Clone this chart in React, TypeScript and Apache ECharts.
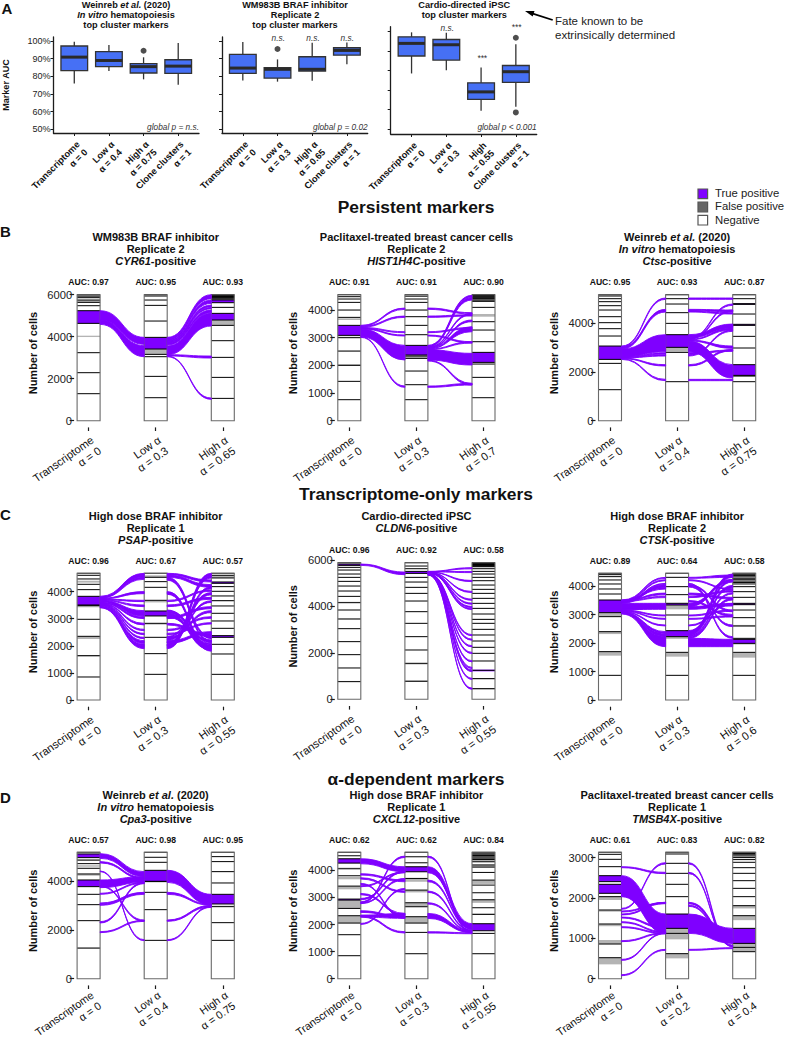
import React, { useEffect, useRef } from "react";
import * as echarts from "echarts";

const FONT = "Liberation Sans";
const PURPLE = "#7f00ff";
const GREY = "#b4b4b4";
const BLUE = "#4670f5";
const INK = "#1c1c1c";

// ---------- Panel A: marker AUC boxplots: [category, min, q1, median, q3, max]
const A1_BOX = [[1, 76, 83.2, 90.9, 97.2, 99.6], [2, 83, 85.5, 89, 94, 97.7], [3, 78.3, 81.9, 85.5, 87.2, 90.8], [4, 75.3, 81.7, 85.8, 89.4, 98.9]];
const A2_BOX = [[1, 77.7, 81.7, 84.7, 92.5, 99.4], [2, 77, 79, 84, 84.9, 89.6], [3, 77.5, 83, 84, 91.1, 99], [4, 86.8, 92, 94.7, 96.2, 99.2]];
const A3_BOX = [[1, 78.5, 87.5, 94, 97.4, 99.7], [2, 80.2, 85.4, 93.3, 96, 99.5], [3, 59.3, 65.1, 69, 73.7, 81.6], [4, 61.3, 73.9, 79.4, 82.6, 93.6]];
const A1_OUT = [[3, 94.5]];
const A2_OUT = [[2, 95.5]];
const A3_OUT = [[4, 96.9], [4, 58.4]];
const A_PERCENT_TICKS = [50, 60, 70, 80, 90, 100];
const A1_NAMES = ["Transcriptome\nα = 0", "Low α\nα = 0.4", "High α\nα = 0.75", "Clone clusters\nα = 1"];
const A2_NAMES = ["Transcriptome\nα = 0", "Low α\nα = 0.3", "High α\nα = 0.65", "Clone clusters\nα = 1"];
const A3_NAMES = ["Transcriptome\nα = 0", "Low α\nα = 0.3", "High\nα = 0.55", "Clone clusters\nα = 1"];

// ---------- Alluvial panels. LINES: stratum boundaries per column, GREY / PURPLE: [lo, hi] bands per column
// FLOWS: per gap, [lo, hi] at the left column, [lo, hi] at the right column
const B1_LINES = [[1286, 2286, 3238, 4635, 5238, 5476, 5635, 5746, 5857, 5937, 6000], [1095, 2111, 3048, 3159, 3413, 3968, 4746, 5492, 5746, 5937, 6000], [1063, 2063, 3016, 3810, 4540, 4794, 5111, 5397, 5619, 5750, 5800, 5850, 5880, 5910, 5940, 5970, 6000]];
const B1_GREY = [[[3984, 4048], [5640, 5746], [5857, 5937]], [[3159, 3413]], [[4540, 4794], [5750, 6000]]];
const B1_PURPLE = [[[4635, 5238]], [[3413, 3968]], [[4794, 5111], [5620, 5750]]];
const B1_FLOWS = [
  [[4794, 5238, 3635, 3968], [4587, 4794, 3048, 3571]],
  [[3905, 3968, 5810, 6000], [3810, 3905, 5587, 5746], [3746, 3810, 5429, 5508], [3698, 3746, 5333, 5397], [3603, 3698, 5143, 5270], [3143, 3556, 4508, 5111], [3079, 3143, 2984, 3079], [3048, 3079, 1016, 1079]],
];

const B2_LINES = [[759, 1422, 2000, 2518, 3000, 3084, 3446, 3735, 4000, 4277, 4398, 4482, 4554], [759, 1301, 1795, 2253, 2337, 2373, 2723, 3108, 3446, 3759, 4000, 4277, 4398, 4500, 4554], [831, 1566, 2048, 2108, 2470, 2855, 3277, 3578, 4096, 4313, 4360, 4410, 4440, 4470, 4500, 4530, 4554]];
const B2_GREY = [[[2000, 2048], [2500, 2518], [3000, 3036], [3640, 3700], [3990, 4000]], [[2253, 2337], [3990, 4000]], [[3759, 3856], [4330, 4554]]];
const B2_PURPLE = [[[3084, 3446]], [[2373, 2723]], [[2108, 2470]]];
const B2_FLOWS = [
  [[3410, 3446, 4024, 4072], [3373, 3410, 3735, 3783], [3337, 3373, 3181, 3217], [3313, 3337, 3060, 3096], [3036, 3313, 2193, 2723], [3012, 3036, 1205, 1253]],
  [[4024, 4072, 3856, 3904], [3735, 3783, 3783, 3832], [3181, 3217, 3325, 3373], [3060, 3096, 2807, 2855], [2687, 2723, 4458, 4530], [2663, 2687, 4362, 4446], [2639, 2663, 3832, 3880], [2615, 2639, 3578, 3639], [2590, 2615, 3217, 3398], [2566, 2590, 2807, 2855], [2193, 2566, 2012, 2434], [2157, 2193, 1289, 1349], [1205, 1253, 1289, 1349]],
];

const B3_LINES = [[1274, 2356, 2520, 3068, 3480, 3781, 4028, 4274, 4548, 4726, 4891, 5014, 5124, 5178], [1603, 2808, 3014, 3535, 4000, 4439, 4795, 5014, 5178], [1603, 1836, 1863, 2302, 2987, 3466, 3918, 3960, 4384, 4781, 4810, 5014, 5178]];
const B3_GREY = [[], [[2836, 3014]], [[1820, 1863]]];
const B3_PURPLE = [[[2520, 3068]], [[3014, 3535]], [[1863, 2302], [3918, 3960], [4781, 4810]]];
const B3_FLOWS = [
  [[3027, 3068, 4987, 5042], [2987, 3027, 4521, 4576], [2946, 2987, 4466, 4521], [2630, 2946, 2836, 3535], [2603, 2630, 2740, 2795], [2576, 2603, 2658, 2713], [2548, 2576, 2247, 2302], [2521, 2548, 1644, 1699]],
  [[4987, 5042, 4987, 5042], [4521, 4576, 4480, 4548], [4466, 4521, 4384, 4439], [3452, 3535, 3836, 3973], [3398, 3452, 3795, 3891], [3370, 3398, 4740, 4795], [3343, 3370, 4480, 4548], [3315, 3343, 3726, 3795], [3274, 3315, 2973, 3069], [2836, 3274, 1754, 2302], [2740, 2795, 2850, 2904], [2658, 2713, 3672, 3726], [2247, 2302, 2877, 2932], [1644, 1699, 1644, 1699]],
];

const C1_LINES = [[849, 1636, 2349, 2977, 3481, 3505, 3825, 4071, 4268, 4465, 4600, 4674], [947, 1710, 2312, 2829, 3100, 3284, 3678, 4157, 4366, 4526, 4674], [947, 1697, 2054, 2312, 2374, 2644, 2915, 3198, 3469, 3665, 3838, 4010, 4182, 4305, 4354, 4502, 4600, 4674]];
const C1_GREY = [[[1600, 1636], [2250, 2349], [3420, 3481], [4330, 4400]], [[2780, 2829], [3600, 3678], [4526, 4600]], [[3640, 3665], [4500, 4600]]];
const C1_PURPLE = [[[3505, 3825]], [[3100, 3284]], [[2312, 2374], [4305, 4354]]];
const C1_FLOWS = [
  [[3776, 3825, 4526, 4674], [3752, 3776, 4453, 4526], [3727, 3752, 3924, 3998], [3702, 3727, 3629, 3678], [3678, 3702, 3444, 3505], [3604, 3678, 3100, 3296], [3579, 3604, 3001, 3075], [3555, 3579, 2768, 2829], [3530, 3555, 2558, 2608], [3505, 3530, 2411, 2460], [3481, 3505, 2263, 2312], [3444, 3481, 2091, 2189], [3420, 3444, 1993, 2066], [3400, 3420, 1894, 1993]],
  [[4600, 4674, 4354, 4428], [4526, 4600, 4157, 4256], [4453, 4526, 2263, 2337], [3924, 3998, 1894, 1968], [3629, 3678, 4010, 4059], [3444, 3505, 3715, 3788], [3198, 3296, 2116, 2214], [3100, 3198, 1845, 1968], [3001, 3075, 3370, 3444], [2768, 2829, 2337, 2435], [2558, 2608, 3014, 3075], [2411, 2460, 2804, 2854], [2263, 2312, 3223, 3296], [2091, 2189, 2448, 2522], [1993, 2066, 4576, 4674], [1894, 1993, 4502, 4576], [3900, 3924, 1800, 1880], [3296, 3320, 1950, 2020], [3050, 3100, 2020, 2090], [4420, 4453, 2140, 2200], [2000, 2050, 4100, 4180], [2100, 2150, 3880, 3950], [2200, 2260, 3600, 3660], [2300, 2350, 3900, 3960]],
];

const C2_LINES = [[760, 1349, 1923, 2483, 3042, 3458, 3846, 4162, 4434, 4664, 4879, 5080, 5252, 5396, 5568, 5683, 5769, 5826, 5884], [775, 1550, 2124, 2698, 3272, 3774, 4233, 4563, 4822, 5051, 5252, 5424, 5510, 5625, 5740, 5884], [459, 890, 1248, 1650, 1980, 2239, 2511, 2770, 3013, 3272, 3444, 3674, 3917, 4133, 4348, 4563, 4736, 4922, 5108, 5252, 5396, 5510, 5625, 5711, 5740, 5770, 5790, 5810, 5830, 5850, 5870, 5884]];
const C2_GREY = [[[760, 790], [3458, 3480], [4162, 4200]], [[775, 820], [1500, 1550]], [[420, 459], [860, 910], [3420, 3460], [5711, 5884]]];
const C2_PURPLE = [[[5769, 5826]], [[5424, 5510]], [[1205, 1277]]];
const C2_FLOWS = [
  [[5769, 5826, 5367, 5480]],
  [[5500, 5510, 5620, 5670], [5490, 5500, 5457, 5507], [5480, 5490, 5069, 5119], [5470, 5480, 4595, 4645], [5460, 5470, 4265, 4315], [5450, 5460, 4093, 4143], [5440, 5450, 3950, 4000], [5430, 5440, 3864, 3914], [5420, 5430, 2737, 2787], [5410, 5420, 2543, 2593], [5400, 5410, 2257, 2307], [5390, 5400, 1970, 2020], [5380, 5390, 1611, 1661], [5372, 5380, 1324, 1374], [5366, 5372, 1192, 1262], [5360, 5366, 857, 907], [5354, 5360, 434, 484]],
];

const C3_LINES = [[867, 1700, 2403, 2930, 3071, 3516, 3727, 3903, 4079, 4220, 4337, 4407, 4455], [867, 1676, 2227, 2438, 2989, 3340, 3400, 3704, 3985, 4313, 4455], [867, 1676, 1992, 2133, 2168, 2602, 2895, 3164, 3352, 3399, 3610, 3809, 3985, 4080, 4130, 4180, 4230, 4280, 4330, 4380, 4420, 4455]];
const C3_GREY = [[[1559, 1700], [2318, 2403], [2930, 3071]], [[1524, 1676], [2150, 2227], [3188, 3340]], [[1489, 1676], [1950, 1992], [2590, 2640]]];
const C3_PURPLE = [[[3071, 3516]], [[2227, 2438], [3340, 3400]], [[1992, 2133], [3352, 3399]]];
const C3_FLOWS = [
  [[3481, 3516, 4278, 4313], [3446, 3481, 4196, 4231], [3422, 3446, 4067, 4102], [3399, 3422, 3973, 4008], [3188, 3399, 3188, 3399], [3164, 3188, 3223, 3282], [3141, 3164, 2953, 2989], [3118, 3141, 2836, 2871], [3094, 3118, 2602, 2637], [3071, 3094, 2344, 2403], [3047, 3071, 2227, 2344], [3024, 3047, 1875, 2227], [3500, 3516, 3900, 3960], [3480, 3500, 3700, 3760], [3460, 3480, 3600, 3650], [3440, 3460, 4000, 4050]],
  [[4278, 4313, 4313, 4395], [4196, 4231, 3879, 3914], [4067, 4102, 2168, 2227], [3973, 4008, 2578, 2637], [3282, 3399, 4161, 4243], [3188, 3282, 3305, 3399], [2953, 2989, 3118, 3164], [2836, 2871, 2918, 2965], [2602, 2637, 3352, 3399], [2285, 2403, 4313, 4430], [2227, 2285, 3727, 3774], [2168, 2227, 3516, 3575], [1875, 2168, 1875, 2133], [4000, 4050, 3100, 3160], [3700, 3760, 3550, 3610], [3600, 3650, 3800, 3860], [3450, 3500, 2950, 3010], [2400, 2440, 4150, 4220], [2300, 2380, 3950, 4030]],
];

const D1_LINES = [[1260, 2384, 3041, 3466, 3781, 4055, 4302, 4535, 4726, 4870, 4973, 5124, 5192], [1575, 2836, 3548, 3987, 4000, 4452, 4781, 4987, 5192], [1575, 2302, 2959, 3069, 3466, 3932, 4398, 4809, 5014, 5192]];
const D1_GREY = [[[1230, 1260], [4230, 4302], [4600, 4660], [4870, 4900]], [[3530, 3548]], [[2959, 3000], [4380, 4398]]];
const D1_PURPLE = [[[3781, 4055], [4973, 5124]], [[4000, 4452]], [[3069, 3466]]];
const D1_FLOWS = [
  [[4945, 5137, 4192, 4398], [4754, 4809, 4096, 4151], [3740, 4055, 3959, 4192], [4398, 4425, 1562, 1603], [3466, 3507, 3918, 3959], [3069, 3110, 3507, 3548], [3014, 3055, 3466, 3507], [2288, 2343, 3905, 3959], [1891, 1932, 2356, 2398], [3781, 3822, 2356, 2411]],
  [[3959, 4452, 3028, 3466], [3466, 3548, 3014, 3055], [2356, 2411, 2945, 3014], [1562, 1603, 2932, 2973]],
];

const D2_LINES = [[849, 1624, 2054, 2325, 2595, 2903, 2940, 3419, 3801, 4059, 4268, 4428, 4539, 4667], [922, 1710, 2054, 2288, 2657, 2804, 3272, 3702, 3948, 4133, 4280, 4502, 4667], [922, 1673, 1771, 2030, 2374, 2620, 2915, 3173, 3456, 3641, 3924, 4120, 4200, 4317, 4400, 4450, 4500, 4550, 4600, 4640, 4667]];
const D2_GREY = [[[2054, 2325], [2595, 2903], [3300, 3419], [3670, 3760], [4059, 4100]], [[2054, 2288], [2657, 2804], [3186, 3272], [3579, 3702]], [[2374, 2410], [2800, 2915], [3500, 3641], [4120, 4200], [4317, 4400], [4450, 4500], [4550, 4600]]];
const D2_PURPLE = [[[2903, 2940], [4268, 4428]], [[3948, 4133]], [[1771, 2030]]];
const D2_FLOWS = [
  [[4244, 4428, 3948, 4133], [3825, 3875, 3579, 3641], [3678, 3727, 3186, 3235], [3481, 3518, 2239, 2288], [3395, 3432, 3911, 3948], [3100, 3149, 2349, 2411], [2768, 2804, 3653, 3702], [2915, 2964, 3924, 3973], [2448, 2509, 2251, 2288], [2276, 2349, 2226, 2411], [2005, 2042, 3284, 3333], [2276, 2325, 1685, 1734], [2792, 2841, 4477, 4526]],
  [[4477, 4526, 1697, 1734], [3948, 4133, 1857, 2030], [3579, 3641, 1833, 1882], [3911, 3948, 1833, 1857], [3186, 3235, 1771, 1808], [2755, 2804, 1734, 1771], [2226, 2411, 1697, 1771], [1685, 1734, 1660, 1697]],
];

const D3_LINES = [[520, 859, 1355, 1702, 2032, 2115, 2338, 2404, 2552, 2775, 2957, 3081, 3131], [620, 1123, 1247, 1602, 2032, 2338, 2610, 2858, 3089, 3131], [669, 776, 875, 1247, 1561, 1809, 2032, 2238, 2428, 2610, 2750, 2883, 2950, 3000, 3040, 3070, 3100, 3131]];
const D3_GREY = [[[355, 520], [859, 958], [1300, 1355], [1660, 1702], [1950, 2032]], [[504, 620], [975, 1247]], [[669, 875], [1450, 1561], [1740, 1809]]];
const D3_PURPLE = [[[2115, 2338], [2404, 2552]], [[1247, 1602]], [[875, 1247]]];
const D3_FLOWS = [
  [[2750, 2775, 2602, 2635], [2032, 2552, 1123, 1602], [1718, 1743, 2842, 2875], [1652, 1677, 1867, 1892], [1578, 1602, 1859, 1892], [1503, 1528, 1247, 1290], [1388, 1412, 1140, 1165], [1264, 1289, 1115, 1140], [917, 942, 1115, 1140], [454, 479, 1115, 1140], [74, 99, 702, 727]],
  [[2842, 2875, 793, 830], [2602, 2635, 793, 818], [1867, 1892, 958, 999], [1859, 1867, 917, 958], [1792, 1825, 876, 917], [1123, 1602, 876, 1247], [702, 727, 743, 768]],
];

const TICKS_2K_6 = [0, 2000, 4000, 6000];
const TICKS_2K_4 = [0, 2000, 4000];
const TICKS_1K_4 = [0, 1000, 2000, 3000, 4000];
const TICKS_1K_3 = [0, 1000, 2000, 3000];

const b = (s: string) => `{b|${s}}`;
const i = (s: string) => `{bi|${s}}`;
const WEINREB = b("Weinreb ") + i("et al.") + b(" (2020)") + "\n" + i("In vitro") + b(" hematopoiesis");

const PANELS = [
  { title: b("WM983B BRAF inhibitor") + "\n" + b("Replicate 2") + "\n" + i("CYR61") + b("-positive"), auc: ["AUC: 0.97", "AUC: 0.95", "AUC: 0.93"], alpha: ["Transcriptome\nα = 0", "Low α\nα = 0.3", "High α\nα = 0.65"], ticks: TICKS_2K_6, total: 6000, lines: B1_LINES, grey: B1_GREY, purple: B1_PURPLE, flows: B1_FLOWS, cx: 88.6, y0: 420.7, yTop: 294.7, titleY: 230.6, labelMargin: 6, labelSize: 11.2 },
  { title: b("Paclitaxel-treated breast cancer cells") + "\n" + b("Replicate 2") + "\n" + i("HIST1H4C") + b("-positive"), auc: ["AUC: 0.91", "AUC: 0.91", "AUC: 0.90"], alpha: ["Transcriptome\nα = 0", "Low α\nα = 0.3", "High α\nα = 0.7"], ticks: TICKS_1K_4, total: 4554, lines: B2_LINES, grey: B2_GREY, purple: B2_PURPLE, flows: B2_FLOWS, cx: 349.3, y0: 420.7, yTop: 294.7, titleY: 230.6, labelMargin: 6, labelSize: 11.2 },
  { title: WEINREB + "\n" + i("Ctsc") + b("-positive"), auc: ["AUC: 0.95", "AUC: 0.93", "AUC: 0.87"], alpha: ["Transcriptome\nα = 0", "Low α\nα = 0.4", "High α\nα = 0.75"], ticks: TICKS_2K_4, total: 5178, lines: B3_LINES, grey: B3_GREY, purple: B3_PURPLE, flows: B3_FLOWS, cx: 610, y0: 420.7, yTop: 294.7, titleY: 230.6, labelMargin: 6, labelSize: 11.2 },
  { title: b("High dose BRAF inhibitor") + "\n" + b("Replicate 1") + "\n" + i("PSAP") + b("-positive"), auc: ["AUC: 0.96", "AUC: 0.67", "AUC: 0.57"], alpha: ["Transcriptome\nα = 0", "Low α\nα = 0.3", "High α\nα = 0.55"], ticks: TICKS_1K_4, total: 4674, lines: C1_LINES, grey: C1_GREY, purple: C1_PURPLE, flows: C1_FLOWS, cx: 88.6, y0: 700, yTop: 573.3, titleY: 509.9, labelMargin: 6, labelSize: 11.2 },
  { title: b("Cardio-directed iPSC") + "\n" + i("CLDN6") + b("-positive"), auc: ["AUC: 0.96", "AUC: 0.92", "AUC: 0.58"], alpha: ["Transcriptome\nα = 0", "Low α\nα = 0.3", "High α\nα = 0.55"], ticks: TICKS_2K_6, total: 5884, lines: C2_LINES, grey: C2_GREY, purple: C2_PURPLE, flows: C2_FLOWS, cx: 349.3, y0: 699.3, yTop: 562.7, titleY: 509.9, labelMargin: 6, labelSize: 11.2 },
  { title: b("High dose BRAF inhibitor") + "\n" + b("Replicate 2") + "\n" + i("CTSK") + b("-positive"), auc: ["AUC: 0.89", "AUC: 0.64", "AUC: 0.58"], alpha: ["Transcriptome\nα = 0", "Low α\nα = 0.3", "High α\nα = 0.6"], ticks: TICKS_1K_4, total: 4455, lines: C3_LINES, grey: C3_GREY, purple: C3_PURPLE, flows: C3_FLOWS, cx: 610, y0: 700, yTop: 573.3, titleY: 509.9, labelMargin: 6, labelSize: 11.2 },
  { title: WEINREB + "\n" + i("Cpa3") + b("-positive"), auc: ["AUC: 0.57", "AUC: 0.98", "AUC: 0.95"], alpha: ["Transcriptome\nα = 0", "Low α\nα = 0.4", "High α\nα = 0.75"], ticks: TICKS_2K_4, total: 5192, lines: D1_LINES, grey: D1_GREY, purple: D1_PURPLE, flows: D1_FLOWS, cx: 88.6, y0: 978.7, yTop: 852.3, titleY: 788.9, labelMargin: 3, labelSize: 10.8 },
  { title: b("High dose BRAF inhibitor") + "\n" + b("Replicate 1") + "\n" + i("CXCL12") + b("-positive"), auc: ["AUC: 0.62", "AUC: 0.62", "AUC: 0.84"], alpha: ["Transcriptome\nα = 0", "Low α\nα = 0.3", "High α\nα = 0.55"], ticks: TICKS_1K_4, total: 4667, lines: D2_LINES, grey: D2_GREY, purple: D2_PURPLE, flows: D2_FLOWS, cx: 349.3, y0: 978.7, yTop: 852.3, titleY: 788.9, labelMargin: 3, labelSize: 10.8 },
  { title: b("Paclitaxel-treated breast cancer cells") + "\n" + b("Replicate 1") + "\n" + i("TMSB4X") + b("-positive"), auc: ["AUC: 0.61", "AUC: 0.83", "AUC: 0.82"], alpha: ["Transcriptome\nα = 0", "Low α\nα = 0.2", "High α\nα = 0.4"], ticks: TICKS_1K_3, total: 3131, lines: D3_LINES, grey: D3_GREY, purple: D3_PURPLE, flows: D3_FLOWS, cx: 610, y0: 978.7, yTop: 852.3, titleY: 788.9, labelMargin: 3, labelSize: 10.8 },
];

const BOX_PANELS = [
  { box: A1_BOX, out: A1_OUT, names: A1_NAMES, left: 53.5, right: 199, top: 37, bottom: 133, min: 47.9, max: 102.3, labels: true },
  { box: A2_BOX, out: A2_OUT, names: A2_NAMES, left: 222, right: 367.7, top: 37, bottom: 133, min: 47.9, max: 102.3, labels: false },
  { box: A3_BOX, out: A3_OUT, names: A3_NAMES, left: 390.7, right: 536.7, top: 26.7, bottom: 134, min: 47.3, max: 102.6, labels: false },
];

const COL_SPACING = 67.1;
const COL_HALF = 11.5 / COL_SPACING;

const richStyles = (size: number, lh: number) => ({
  b: { fontFamily: FONT, fontWeight: "bold", fontSize: size, lineHeight: lh, color: "#111" },
  bi: { fontFamily: FONT, fontWeight: "bold", fontStyle: "italic", fontSize: size, lineHeight: lh, color: "#111" },
});

function makeTitle(text: string, cx: number, top: number, size: number, lh: number) {
  return { text, left: cx, top, padding: 0, textAlign: "center", textStyle: { rich: richStyles(size, lh) } };
}

function gText(text: string, x: number, y: number, size: number, extra: any = {}) {
  return { type: "text", x, y, silent: true, style: { text, fontFamily: FONT, fontSize: size, fill: "#222", align: "left", verticalAlign: "middle", ...extra } };
}

function buildOption() {
  const grids: any[] = [];
  const xAxes: any[] = [];
  const yAxes: any[] = [];
  const series: any[] = [];
  const titles: any[] = [];

  titles.push(makeTitle(WEINREB + "\n" + b("top cluster markers"), 126, -0.2, 9.2, 10.2));
  titles.push(makeTitle(b("WM983B BRAF inhibitor") + "\n" + b("Replicate 2") + "\n" + b("top cluster markers"), 295, -0.2, 9.2, 10.2));
  titles.push(makeTitle(b("Cardio-directed iPSC") + "\n" + b("top cluster markers"), 464.3, -0.2, 9.2, 10.2));
  titles.push(makeTitle(b("A"), 7, 1, 15, 15));
  titles.push(makeTitle(b("B"), 5.5, 224, 15, 15));
  titles.push(makeTitle(b("C"), 5.5, 506.5, 15, 15));
  titles.push(makeTitle(b("D"), 5.5, 789.5, 15, 15));
  titles.push(makeTitle(b("Persistent markers"), 416, 197, 17.4, 20));
  titles.push(makeTitle(b("Transcriptome-only markers"), 416, 484, 17.4, 20));
  titles.push(makeTitle(b("α-dependent markers"), 416, 769, 17.4, 20));

  BOX_PANELS.forEach((p, k) => {
    grids.push({ left: p.left, top: p.top, width: p.right - p.left, height: p.bottom - p.top, outerBoundsMode: "none" });
    xAxes.push({
      gridIndex: k, type: "value", min: 0.4, max: 4.6, position: "bottom", splitLine: { show: false },
      axisLine: { show: true, onZero: false, lineStyle: { color: INK, width: 1.3 } },
      axisTick: { show: true, customValues: [1, 2, 3, 4], length: 3, lineStyle: { color: INK, width: 1 } },
      axisLabel: { customValues: [1, 2, 3, 4], formatter: (v: number) => p.names[v - 1], rotate: 45, align: "right", verticalAlign: "top", margin: 6, fontFamily: FONT, fontWeight: "bold", fontSize: 9.2, lineHeight: 11, color: "#111" },
    });
    yAxes.push({
      gridIndex: k, type: "value", min: p.min, max: p.max, splitLine: { show: false },
      name: p.labels ? "Marker AUC" : undefined, nameLocation: "middle", nameGap: 43, nameRotate: 90,
      nameTextStyle: { fontFamily: FONT, fontWeight: "bold", fontSize: 9.1, color: "#111" },
      axisLine: { show: true, onZero: false, lineStyle: { color: INK, width: 1.3 } },
      axisTick: { show: true, customValues: A_PERCENT_TICKS, length: 3, lineStyle: { color: INK, width: 1 } },
      axisLabel: { show: p.labels, customValues: A_PERCENT_TICKS, formatter: (v: number) => `${v}%`, margin: 3, fontFamily: FONT, fontSize: 9, color: "#222" },
    });
    series.push({
      type: "custom", name: `box${k}`, coordinateSystem: "cartesian2d", xAxisIndex: k, yAxisIndex: k, silent: true,
      data: p.box,
      renderItem: (_: any, api: any) => {
        const c = api.value(0);
        const hw = 0.385;
        const [x0, yq3] = api.coord([c - hw, api.value(4)]);
        const [x1, yq1] = api.coord([c + hw, api.value(2)]);
        const [xc, yMin] = api.coord([c, api.value(1)]);
        const yMed = api.coord([c, api.value(3)])[1];
        const yMax = api.coord([c, api.value(5)])[1];
        const ink = { stroke: "#333", lineWidth: 1.3 };
        return {
          type: "group",
          children: [
            { type: "line", shape: { x1: xc, y1: yMin, x2: xc, y2: yMax }, style: ink },
            { type: "rect", shape: { x: x0, y: yq3, width: x1 - x0, height: yq1 - yq3 }, style: { fill: BLUE, ...ink } },
            { type: "line", shape: { x1: x0, y1: yMed, x2: x1, y2: yMed }, style: { stroke: "#2a2a2a", lineWidth: 3 } },
          ],
        };
      },
    });
    series.push({
      type: "scatter", name: `outliers${k}`, xAxisIndex: k, yAxisIndex: k, silent: true, symbolSize: 6,
      itemStyle: { color: "#222" }, data: p.out,
    });
  });

  PANELS.forEach((p, n) => {
    const k = n + BOX_PANELS.length;
    const unit = (p.y0 - p.yTop) / p.total;
    const left = p.cx - 14.5;
    const right = p.cx + 2 * COL_SPACING + 13.4;
    const gridTop = p.yTop - 16;
    const gridBottom = p.y0 + 6.7;
    grids.push({ left, top: gridTop, width: right - left, height: gridBottom - gridTop, outerBoundsMode: "none" });
    xAxes.push({
      gridIndex: k, type: "value", min: 1 - 14.5 / COL_SPACING, max: 3 + 13.4 / COL_SPACING, position: "bottom", splitLine: { show: false },
      axisLine: { show: false, onZero: false },
      axisTick: { show: true, customValues: [1, 2, 3], length: 3.6, lineStyle: { color: INK, width: 1.2 } },
      axisLabel: { customValues: [1, 2, 3], formatter: (v: number) => p.alpha[v - 1], rotate: 35, align: "right", verticalAlign: "top", margin: p.labelMargin, fontFamily: FONT, fontSize: p.labelSize, lineHeight: 13, color: "#111" },
    });
    yAxes.push({
      gridIndex: k, type: "value", min: -6.7 / unit, max: p.total + 16 / unit, splitLine: { show: false },
      name: "Number of cells", nameLocation: "middle", nameGap: 36, nameRotate: 90,
      nameTextStyle: { fontFamily: FONT, fontWeight: "bold", fontSize: 11, color: "#111" },
      axisLine: { show: false, onZero: false },
      axisTick: { show: true, customValues: p.ticks, length: 4.5, lineStyle: { color: INK, width: 1.2 } },
      axisLabel: { customValues: p.ticks, formatter: (v: number) => String(v), margin: 2, fontFamily: FONT, fontSize: 11.2, color: "#222" },
    });

    const base = { type: "custom", coordinateSystem: "cartesian2d", xAxisIndex: k, yAxisIndex: k, silent: true, clip: false };
    // [column, lo, hi]
    const bandRect = (fill: string, z: number, name: string, rows: number[][]) => ({
      ...base, name: `${name}${n}`, z, data: rows,
      renderItem: (_: any, api: any) => {
        const c = api.value(0);
        const [x0, yHi] = api.coord([c - COL_HALF, api.value(2)]);
        const [x1, yLo] = api.coord([c + COL_HALF, api.value(1)]);
        return { type: "rect", shape: { x: x0, y: yHi, width: x1 - x0, height: yLo - yHi }, style: { fill, stroke: "none" } };
      },
    });
    series.push(bandRect("#ffffff", 2, "negative", [1, 2, 3].map((c) => [c, 0, p.total])));
    series.push(bandRect(GREY, 3, "falsePositive", p.grey.flatMap((bands: number[][], c: number) => bands.map((r) => [c + 1, r[0], r[1]]))));
    series.push(bandRect(PURPLE, 4, "truePositive", p.purple.flatMap((bands: number[][], c: number) => bands.map((r) => [c + 1, r[0], r[1]]))));
    series.push({
      ...base, name: `strata${n}`, z: 5,
      data: p.lines.flatMap((vals: number[], c: number) => vals.map((v) => [c + 1, v])),
      renderItem: (_: any, api: any) => {
        const c = api.value(0);
        const [x0, y] = api.coord([c - COL_HALF, api.value(1)]);
        const [x1] = api.coord([c + COL_HALF, api.value(1)]);
        return { type: "line", shape: { x1: x0, y1: y, x2: x1, y2: y }, style: { stroke: "#000", lineWidth: 1 } };
      },
    });
    series.push({
      ...base, name: `frame${n}`, z: 6, data: [1, 2, 3].map((c) => [c, 0, p.total]),
      renderItem: (_: any, api: any) => {
        const c = api.value(0);
        const [x0, yHi] = api.coord([c - COL_HALF, api.value(2)]);
        const [x1, yLo] = api.coord([c + COL_HALF, api.value(1)]);
        return { type: "rect", shape: { x: x0, y: yHi, width: x1 - x0, height: yLo - yHi }, style: { fill: "none", stroke: "#6a6a6a", lineWidth: 1.1 } };
      },
    });
    series.push({
      ...base, name: `flows${n}`, z: 7,
      data: p.flows.flatMap((gap: number[][], g: number) => gap.map((f) => [g + 1, f[0], f[1], f[2], f[3]])),
      renderItem: (_: any, api: any) => {
        const g = api.value(0);
        const xa = g + COL_HALF;
        const xb = g + 1 - COL_HALF;
        const [x0, a0] = api.coord([xa, api.value(1)]);
        const a1 = api.coord([xa, api.value(2)])[1];
        const [x1, b0] = api.coord([xb, api.value(3)]);
        const b1 = api.coord([xb, api.value(4)])[1];
        const m = (x0 + x1) / 2;
        const d = `M${x0} ${a1}C${m} ${a1} ${m} ${b1} ${x1} ${b1}L${x1} ${b0}C${m} ${b0} ${m} ${a0} ${x0} ${a0}Z`;
        return { type: "path", shape: { pathData: d }, style: { fill: PURPLE, stroke: PURPLE, lineWidth: 0.9 } };
      },
    });
    series.push({
      ...base, name: `auc${n}`, z: 8, data: [1, 2, 3].map((c) => [c, p.total]),
      renderItem: (params: any, api: any) => {
        const [x, y] = api.coord([api.value(0), api.value(1)]);
        return { type: "text", x, y: y - 12.4, style: { text: p.auc[params.dataIndex], align: "center", verticalAlign: "middle", fontFamily: FONT, fontWeight: "bold", fontSize: 8.6, fill: "#111" } };
      },
    });
    titles.push(makeTitle(p.title, p.cx + COL_SPACING, p.titleY, 11, 12.2));
  });

  const note = { fontStyle: "italic", fill: "#333" };
  const graphic: any[] = [
    gText("global p = n.s.", 199, 126.7, 8.3, { ...note, align: "right" }),
    gText("global p = 0.02", 367.7, 126.7, 8.3, { ...note, align: "right" }),
    gText("global p < 0.001", 536.7, 126.7, 8.3, { ...note, align: "right" }),
    gText("n.s.", 278.3, 37.5, 8.3, { ...note, align: "center" }),
    gText("n.s.", 313, 37.5, 8.3, { ...note, align: "center" }),
    gText("n.s.", 347.3, 37.5, 8.3, { ...note, align: "center" }),
    gText("n.s.", 447.3, 28, 8.3, { ...note, align: "center" }),
    gText("***", 482, 58, 8.3, { ...note, align: "center" }),
    gText("***", 516.3, 27, 8.3, { ...note, align: "center" }),
    { type: "line", silent: true, shape: { x1: 552.7, y1: 20, x2: 532, y2: 13.3 }, style: { stroke: "#000", lineWidth: 1.8 } },
    { type: "polygon", silent: true, shape: { points: [[525, 11], [534.5, 11], [532.7, 16.6]] }, style: { fill: "#000" } },
    gText("Fate known to be", 555, 20.5, 11.5),
    gText("extrinsically determined", 555, 35, 11.5),
  ];
  const legend = [["True positive", PURPLE, 194], ["False positive", "#666666", 207.2], ["Negative", "#ffffff", 220.4]] as const;
  legend.forEach(([label, fill, y]) => {
    graphic.push({ type: "rect", silent: true, shape: { x: 698, y: y - 5, width: 9.6, height: 9.6 }, style: { fill, stroke: "#555", lineWidth: 1.2 } });
    graphic.push(gText(label, 715, y - 0.8, 11.3));
  });

  return { animation: false, backgroundColor: "#ffffff", title: titles, grid: grids, xAxis: xAxes, yAxis: yAxes, series, graphic };
}

export default function App() {
  const ref = useRef<HTMLDivElement>(null);
  useEffect(() => {
    const chart = echarts.init(ref.current, undefined, { renderer: "svg" });
    chart.setOption(buildOption() as any);
    return () => chart.dispose();
  }, []);
  return <div ref={ref} style={{ position: "absolute", left: 0, top: 0, width: 786, height: 1039 }} />;
}
